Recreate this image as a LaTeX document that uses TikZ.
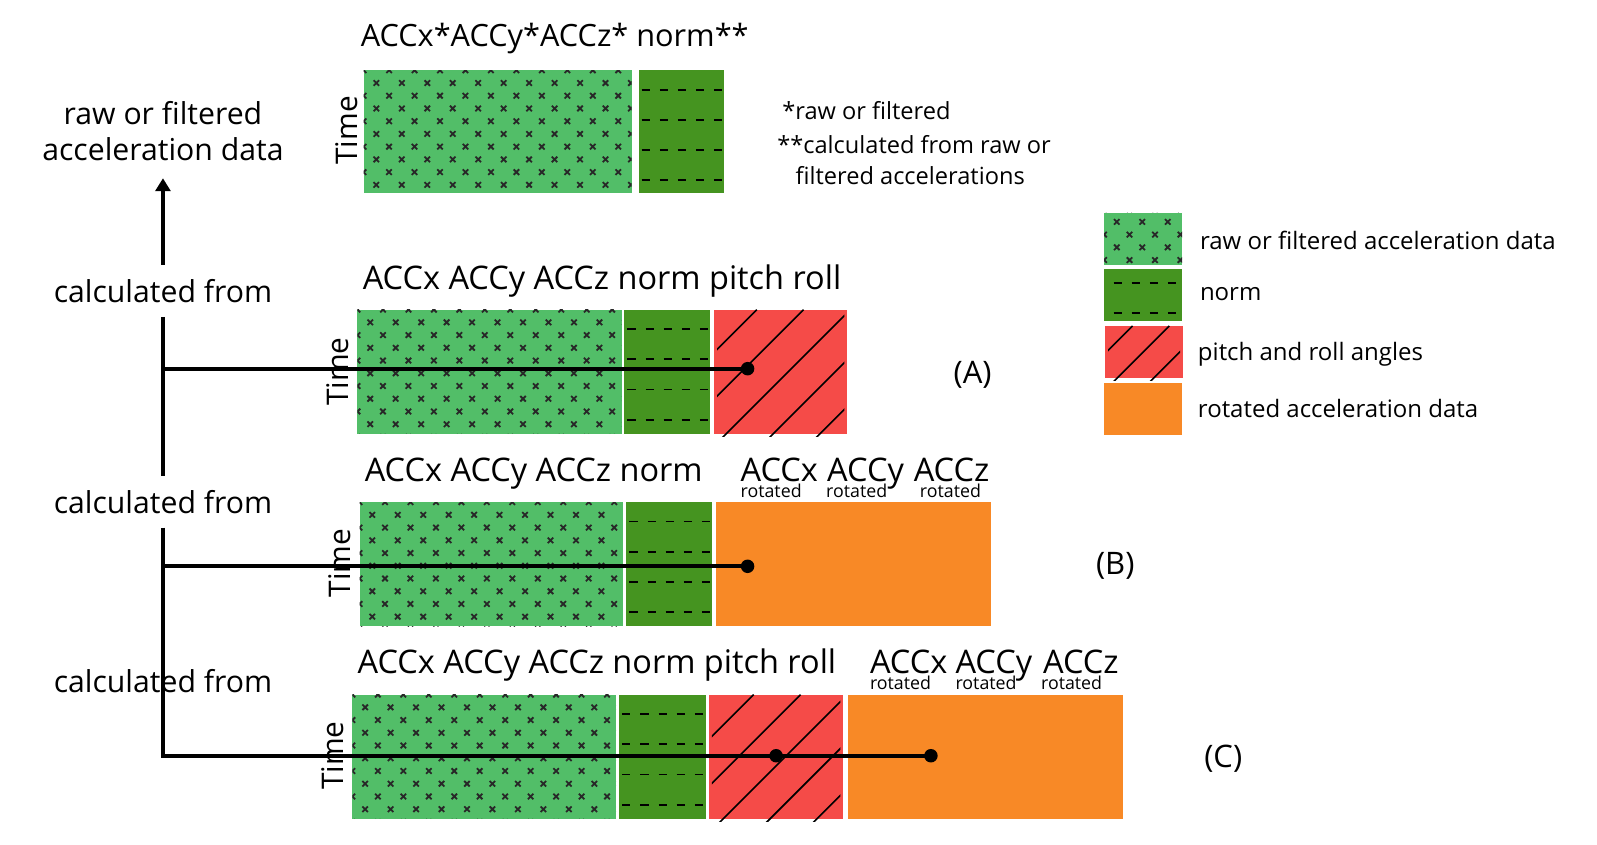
\documentclass[tikz,border=0pt]{standalone}
\usepackage{fontspec}
\setmainfont{Open Sans}
\usetikzlibrary{arrows.meta}
\definecolor{accgreen}{RGB}{82,190,104}
\definecolor{normgreen}{RGB}{69,148,32}
\definecolor{anglered}{RGB}{245,75,72}
\definecolor{rotorange}{RGB}{248,137,38}
\definecolor{markgray}{RGB}{40,40,40}

% cross pattern: #1 node, #2 vertical offset
\newcommand\patAcc[2]{%
  \begin{scope}
    \clip (#1.north west) rectangle (#1.south east);
    \draw[line width=1.8pt, markgray, shift={(#1.north west)}]
      foreach \i in {0,...,11}{ foreach \j in {0,...,5}{
        ({12.5+25*\i},{12.5+#2+25*\j}) +(-2.7,-2.7) -- +(2.7,2.7) +(-2.7,2.7) -- +(2.7,-2.7)
        ({25*\i},{#2+25*\j}) +(-2.7,-2.7) -- +(2.7,2.7) +(-2.7,2.7) -- +(2.7,-2.7)
      }};
  \end{scope}}
% dash pattern: #1 node, #2 first row, #3 row spacing, #4 rows, #5 x start
\newcommand\patNorm[5]{%
  \begin{scope}
    \clip (#1.north west) rectangle (#1.south east);
    \draw[line width=1.8pt, black, shift={(#1.north west)}]
      foreach \j in {1,...,#4}{ foreach \i in {0,...,4}{
        ({#5+17.8*\i},{#2+#3*(\j-1)}) -- ++(8,0)
      }};
  \end{scope}}
% hatch pattern: #1 node, #2 first intercept, #3 spacing
\newcommand\patHatch[3]{%
  \begin{scope}
    \clip ([shift={(3,-3)}]#1.north west) rectangle ([shift={(-3,3)}]#1.south east);
    \draw[line width=1.6pt, black, shift={(#1.north west)}]
      foreach \k in {0,...,7}{ ({#2+#3*\k},0) -- ++(-150,150) };
  \end{scope}}

\tikzset{
  blk/.style={rectangle, inner sep=0pt, outer sep=0pt, anchor=north west},
  accbox/.style={blk, fill=accgreen, minimum width=264pt, minimum height=124pt},
  normbox/.style={blk, fill=normgreen, minimum width=85.5pt, minimum height=124pt},
  anglebox/.style={blk, fill=anglered, minimum width=133.5pt, minimum height=124pt},
  rotbox/.style={blk, fill=rotorange, minimum width=275pt, minimum height=124pt},
  legbox/.style={blk, minimum width=78pt, minimum height=52pt},
  title/.style={inner sep=0pt, anchor=base west, font=\fontsize{32.5}{39}\selectfont},
  subttl/.style={inner sep=0pt, anchor=base west, font=\fontsize{17.8}{21}\selectfont},
  sidelbl/.style={inner sep=0pt, anchor=base, font=\fontsize{30.2}{36}\selectfont},
  notelbl/.style={inner sep=0pt, anchor=base west, font=\fontsize{23.6}{28}\selectfont},
  leglbl/.style={inner sep=0pt, anchor=base west, font=\fontsize{24}{29}\selectfont},
  timelbl/.style={inner sep=0pt, rotate=90, font=\fontsize{29.8}{36}\selectfont},
  caselbl/.style={inner sep=0pt, font=\fontsize{31}{37}\selectfont},
  conn/.style={line width=4.2pt, black},
  dot/.style={circle, fill=black, inner sep=0pt, minimum size=13.5pt},
}

\begin{document}
\begin{tikzpicture}[x=1.0185pt, y=-1.0185pt]
\useasboundingbox (0,0) rectangle (1568,829.6);

% ---------- top block ----------
\node[title, font=\fontsize{30.7}{37}\selectfont] (t0) at (354,46) {ACCx*ACCy*ACCz* norm**};
\node[accbox, minimum width=268pt, minimum height=123pt] (g0) at (357,69) {};
\node[normbox, minimum height=123pt] (n0) at (627,69) {};
\patAcc{g0}{0}
\patNorm{n0}{19}{29.7}{4}{3}
\node[timelbl] (time0) at (340,128) {Time};
\node[notelbl] (note1) at (768,117) {*raw or filtered};
\node[notelbl] (note2) at (763,151) {**calculated from raw or};
\node[notelbl] (note3) at (781,181) {filtered accelerations};

% ---------- row A ----------
\node[title] (tA) at (356,284) {ACCx ACCy ACCz norm pitch roll};
\node[accbox] (gA) at (351,304) {};
\node[normbox] (nA) at (613,304) {};
\node[anglebox] (rA) at (701,304) {};
\patAcc{gA}{0}
\patNorm{nA}{19}{29.7}{4}{3}
\patHatch{rA}{42}{46}
\node[timelbl] (timeA) at (332,365) {Time};
\node[caselbl] (caseA) at (955,368) {(A)};

% ---------- row B ----------
\node[title] (tB) at (358,473) {ACCx ACCy ACCz norm};
\node[title] (bx) at (727,473) {ACCx};
\node[title] (by) at (812,473) {ACCy};
\node[title] (bz) at (897,473) {ACCz};
\node[subttl] (bxs) at (727,488.5) {rotated};
\node[subttl] (bys) at (811,488.5) {rotated};
\node[subttl] (bzs) at (903,488.5) {rotated};
\node[accbox, minimum width=263pt] (gB) at (353,493) {};
\node[normbox] (nB) at (615,493) {};
\node[rotbox] (oB) at (703,493) {};
\patAcc{gB}{0}
\patNorm{nB}{19}{29.7}{4}{3}
\node[timelbl] (timeB) at (334,553) {Time};
\node[caselbl] (caseB) at (1095,556) {(B)};

% ---------- row C ----------
\node[title] (tC) at (351,661) {ACCx ACCy ACCz norm pitch roll};
\node[title] (cx) at (854,661) {ACCx};
\node[title] (cy) at (938,661) {ACCy};
\node[title] (cz) at (1024,661) {ACCz};
\node[subttl] (cxs) at (854,676.5) {rotated};
\node[subttl] (cys) at (938,676.5) {rotated};
\node[subttl] (czs) at (1022,676.5) {rotated};
\node[accbox] (gC) at (346,682) {};
\node[normbox, minimum width=86.5pt] (nC) at (608,682) {};
\node[anglebox, minimum width=134.5pt] (rC) at (696,682) {};
\node[rotbox] (oC) at (833,682) {};
\patAcc{gC}{0}
\patNorm{nC}{19}{29.7}{4}{3}
\patHatch{rC}{44}{46}
\node[timelbl] (timeC) at (327,742) {Time};
\node[caselbl] (caseC) at (1201,745) {(C)};

% ---------- legend ----------
\node[legbox, fill=accgreen] (L1) at (1084,209) {};
\node[legbox, fill=normgreen] (L2) at (1084,264) {};
\node[legbox, fill=anglered] (L3) at (1085,320) {};
\node[legbox, fill=rotorange] (L4) at (1084,376) {};
\patAcc{L1}{-3.7}
\patNorm{L2}{13.5}{30}{2}{9.3}
\patHatch{L3}{27}{36}
\node[leglbl] (L1t) at (1178,245) {raw or filtered acceleration data};
\node[leglbl] (L2t) at (1178,295) {norm};
\node[leglbl] (L3t) at (1176,354) {pitch and roll angles};
\node[leglbl] (L4t) at (1176,410) {rotated acceleration data};

% ---------- left column ----------
\node[sidelbl] (src1) at (160,122) {raw or filtered};
\node[sidelbl] (src2) at (160,158) {acceleration data};
\node[sidelbl] (calc1) at (160,297) {calculated from};
\node[sidelbl] (calc2) at (160,504) {calculated from};
\node[sidelbl] (calc3) at (160,680) {calculated from};

\coordinate (arrS) at (160,260);
\coordinate (arrE) at (160,175);
\coordinate (s1a) at (160,311);
\coordinate (s1b) at (160,467);
\coordinate (s2a) at (160,518);
\coordinate (sA) at (160,362);
\coordinate (sB) at (160,556);
\coordinate (sC) at (160,742);

\node[dot] (dA) at (734,362) {};
\node[dot] (dB) at (734,556) {};
\node[dot] (dC1) at (762,742) {};
\node[dot] (dC2) at (914,742) {};

\draw[conn, -{Triangle[width=15pt,length=13pt]}] (arrS) -- (arrE);
\draw[conn] (s1a) -- (s1b);
\draw[conn] (s2a) -- (sC);
\draw[conn, line cap=rect] (sA) -- (dA.center);
\draw[conn, line cap=rect] (sB) -- (dB.center);
\draw[conn, line cap=rect] (sC) -- (dC1.center) -- (dC2.center);
\end{tikzpicture}
\end{document}
